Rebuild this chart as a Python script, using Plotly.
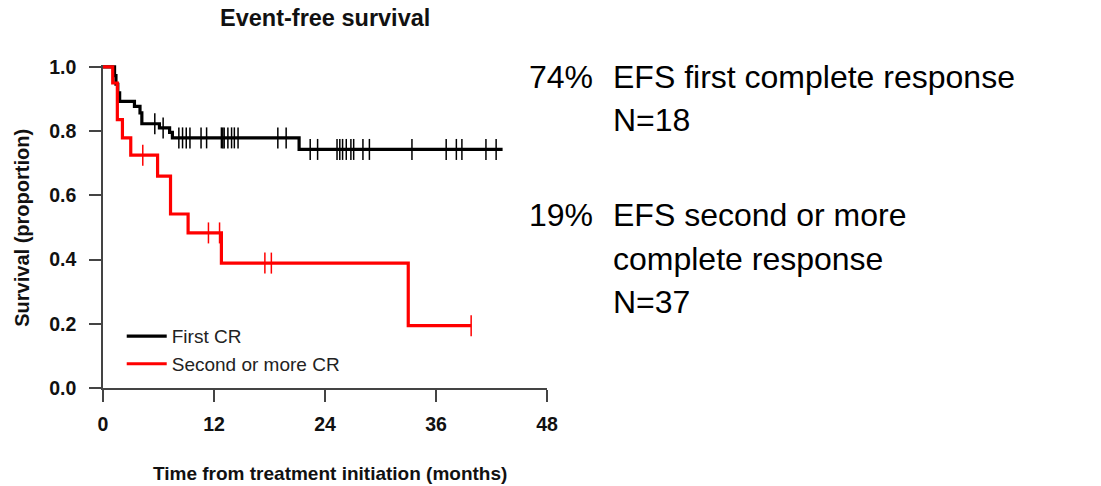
import plotly.graph_objects as go

# ---------------- data ----------------
first_cr_times = [0, 1.25, 1.4, 1.6, 1.8, 3.4, 4.0, 4.2, 6.1, 7.2, 7.5, 21.2]
first_cr_surv = [1.0, 0.973, 0.946, 0.919, 0.893, 0.877, 0.857, 0.823, 0.810, 0.796, 0.779, 0.743]
first_cr_end = 43.2
first_cr_censor = [5.6, 6.5, 8.2, 8.6, 9.0, 9.4, 10.6, 11.2, 12.8, 12.95, 13.1, 13.5, 13.9,
                   14.2, 14.6, 18.9, 19.8, 22.4, 23.2, 25.3, 25.6, 25.9, 26.3, 26.8, 27.1,
                   28.1, 28.8, 33.4, 37.1, 38.2, 38.8, 41.4, 42.5]

second_cr_times = [0, 1.05, 1.55, 2.1, 3.0, 5.9, 7.3, 9.2, 12.8, 33.0]
second_cr_surv = [1.0, 0.950, 0.836, 0.779, 0.725, 0.660, 0.542, 0.483, 0.389, 0.194]
second_cr_end = 39.8
second_cr_censor = [4.3, 11.4, 12.6, 17.5, 18.2, 39.8]

series_names = ["First CR", "Second or more CR"]
series_colors = ["#000000", "#ff0000"]

x_ticks = [0, 12, 24, 36, 48]
y_ticks = [0.0, 0.2, 0.4, 0.6, 0.8, 1.0]

title_text = "Event-free survival"
x_title = "Time from treatment initiation (months)"
y_title = "Survival (proportion)"

right_lines = [
    ("74%", "EFS first complete response"),
    ("", "N=18"),
    ("19%", "EFS second or more"),
    ("", "complete response"),
    ("", "N=37"),
]

FONT = "Liberation Sans, Arial, Helvetica, sans-serif"


def step_xy(times, surv, end):
    xs, ys = [], []
    for i, (t, s) in enumerate(zip(times, surv)):
        xs.append(t)
        ys.append(s)
        nxt = times[i + 1] if i + 1 < len(times) else end
        xs.append(nxt)
        ys.append(s)
    return xs, ys


def level_at(times, surv, t):
    lvl = surv[0]
    for tt, s in zip(times, surv):
        if tt <= t:
            lvl = s
    return lvl


fig = go.Figure()

groups = [
    (first_cr_times, first_cr_surv, first_cr_end, first_cr_censor),
    (second_cr_times, second_cr_surv, second_cr_end, second_cr_censor),
]

for (times, surv, end, cens), name, col in zip(groups, series_names, series_colors):
    xs, ys = step_xy(times, surv, end)
    fig.add_trace(go.Scatter(
        x=xs, y=ys, mode="lines", name=name,
        line=dict(color=col, width=3.2, shape="linear"),
        showlegend=True, hoverinfo="skip",
    ))
    fig.add_trace(go.Scatter(
        x=cens, y=[level_at(times, surv, c) for c in cens], mode="markers",
        marker=dict(symbol="line-ns", size=15, line=dict(color=col, width=1.5)),
        showlegend=False, hoverinfo="skip",
    ))

# pixel geometry helpers for text placement
L, R, T, B = 103.3, 546.7, 65.4, 388.3
W, H = 1101, 486


def px_x(px):
    return (px - L) / (R - L)


def px_y(py):
    return (B - py) / (B - T)


annotations = []
annotations.append(dict(
    text=title_text, xref="paper", yref="paper", x=px_x(325), y=px_y(18.5),
    xanchor="center", yanchor="middle", showarrow=False,
    font=dict(family=FONT, size=23.5, color="#111111", weight="bold"),
))
annotations.append(dict(
    text=x_title, xref="paper", yref="paper", x=px_x(330), y=px_y(474),
    xanchor="center", yanchor="middle", showarrow=False,
    font=dict(family=FONT, size=19, color="#111111", weight="bold"),
))
annotations.append(dict(
    text=y_title, xref="paper", yref="paper", x=px_x(22.5), y=px_y(228),
    xanchor="center", yanchor="middle", showarrow=False, textangle=-90,
    font=dict(family=FONT, size=20, color="#111111", weight="bold"),
))

line_centers = [77, 120.5, 215, 259, 302.5]
for (pct, txt), cy in zip(right_lines, line_centers):
    if pct:
        annotations.append(dict(
            text=pct, xref="paper", yref="paper", x=px_x(527), y=px_y(cy),
            xanchor="left", yanchor="middle", showarrow=False,
            font=dict(family=FONT, size=32, color="#000000"),
        ))
    annotations.append(dict(
        text=txt, xref="paper", yref="paper", x=px_x(610.5), y=px_y(cy),
        xanchor="left", yanchor="middle", showarrow=False,
        font=dict(family=FONT, size=32, color="#000000"),
    ))

axis_common = dict(
    showgrid=False, zeroline=False, showline=True, linecolor="#444444", linewidth=1.5,
    ticks="outside", ticklen=12, tickwidth=1.5, tickcolor="#444444",
    tickfont=dict(family=FONT, size=19.5, color="#111111", weight="bold"),
)

fig.update_layout(
    width=W, height=H,
    margin=dict(l=L, r=W - R, t=T, b=H - B, pad=0),
    paper_bgcolor="white", plot_bgcolor="white",
    xaxis=dict(range=[0, 48], tickvals=x_ticks, ticklabelstandoff=6, **axis_common),
    yaxis=dict(range=[0, 1.006], tickvals=y_ticks, tickformat=".1f",
               ticklabelstandoff=9, **axis_common),
    legend=dict(
        x=px_x(122), y=px_y(317.5), xanchor="left", yanchor="top",
        bgcolor="rgba(0,0,0,0)", borderwidth=0,
        font=dict(family=FONT, size=19, color="#222222"),
        itemwidth=40, tracegroupgap=0,
    ),
    annotations=annotations,
    showlegend=True,
)

fig.write_html("out.html")
